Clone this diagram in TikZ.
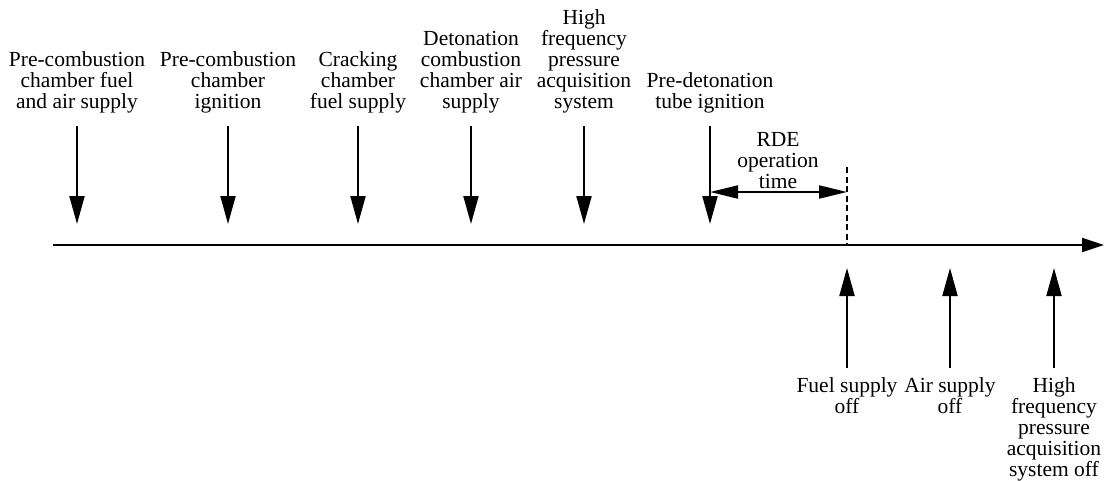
\documentclass[tikz,border=0pt]{standalone}
\usepackage{fontspec}
\setmainfont{Liberation Serif}
\usetikzlibrary{arrows.meta}
\begin{document}
\begin{tikzpicture}[x=1pt,y=-1pt,
  lbl/.style={align=center,inner sep=0pt,font=\fontsize{21.5}{21}\selectfont},
  vtip/.style={-{Triangle[length=28pt,width=15pt]},line width=2pt},
  ax/.style={-{Triangle[length=22pt,width=14pt]},line width=2pt},
  dbl/.style={{Triangle[length=28pt,width=13pt]}-{Triangle[length=28pt,width=13pt]},line width=2pt},
  dsh/.style={line width=2pt,dash pattern=on 6pt off 3.5pt}]
\useasboundingbox (0,0) rectangle (1104,480);
% axis
\coordinate (a0) at (53,245);
\coordinate (a1) at (1104,245);
\draw[ax] (a0) -- (a1);
% top labels and arrows
\node[lbl,anchor=south] (t1) at (77,113) {Pre-combustion\\chamber fuel\\and air supply};
\node[lbl,anchor=south] (t2) at (228,113) {Pre-combustion\\chamber\\ignition};
\node[lbl,anchor=south] (t3) at (358,113) {Cracking\\chamber\\fuel supply};
\node[lbl,anchor=south] (t4) at (471,113) {Detonation\\combustion\\chamber air\\supply};
\node[lbl,anchor=south] (t5) at (584,113) {High\\frequency\\pressure\\acquisition\\system};
\node[lbl,anchor=south] (t6) at (710,113) {Pre-detonation\\tube ignition};
\foreach \i/\x in {1/77,2/228,3/358,4/471,5/584,6/710}{
  \coordinate (s\i) at (\x,126);
  \coordinate (e\i) at (\x,224);
  \draw[vtip] (s\i) -- (e\i);
}
% RDE operation time
\coordinate (d0) at (847,167);
\coordinate (d1) at (847,245);
\draw[dsh] (d0) -- (d1);
\coordinate (r0) at (710,192);
\coordinate (r1) at (847,192);
\draw[dbl] (r0) -- (r1);
\node[lbl,anchor=north] (rde) at (778,132) {RDE\\operation\\time};
% bottom arrows and labels
\foreach \i/\x in {1/847,2/950,3/1054}{
  \coordinate (u\i) at (\x,368);
  \coordinate (v\i) at (\x,268);
  \draw[vtip] (u\i) -- (v\i);
}
\node[lbl,anchor=north] (b1) at (847,377) {Fuel supply\\off};
\node[lbl,anchor=north] (b2) at (950,377) {Air supply\\off};
\node[lbl,anchor=north] (b3) at (1054,377) {High\\frequency\\pressure\\acquisition\\system off};
\end{tikzpicture}
\end{document}
